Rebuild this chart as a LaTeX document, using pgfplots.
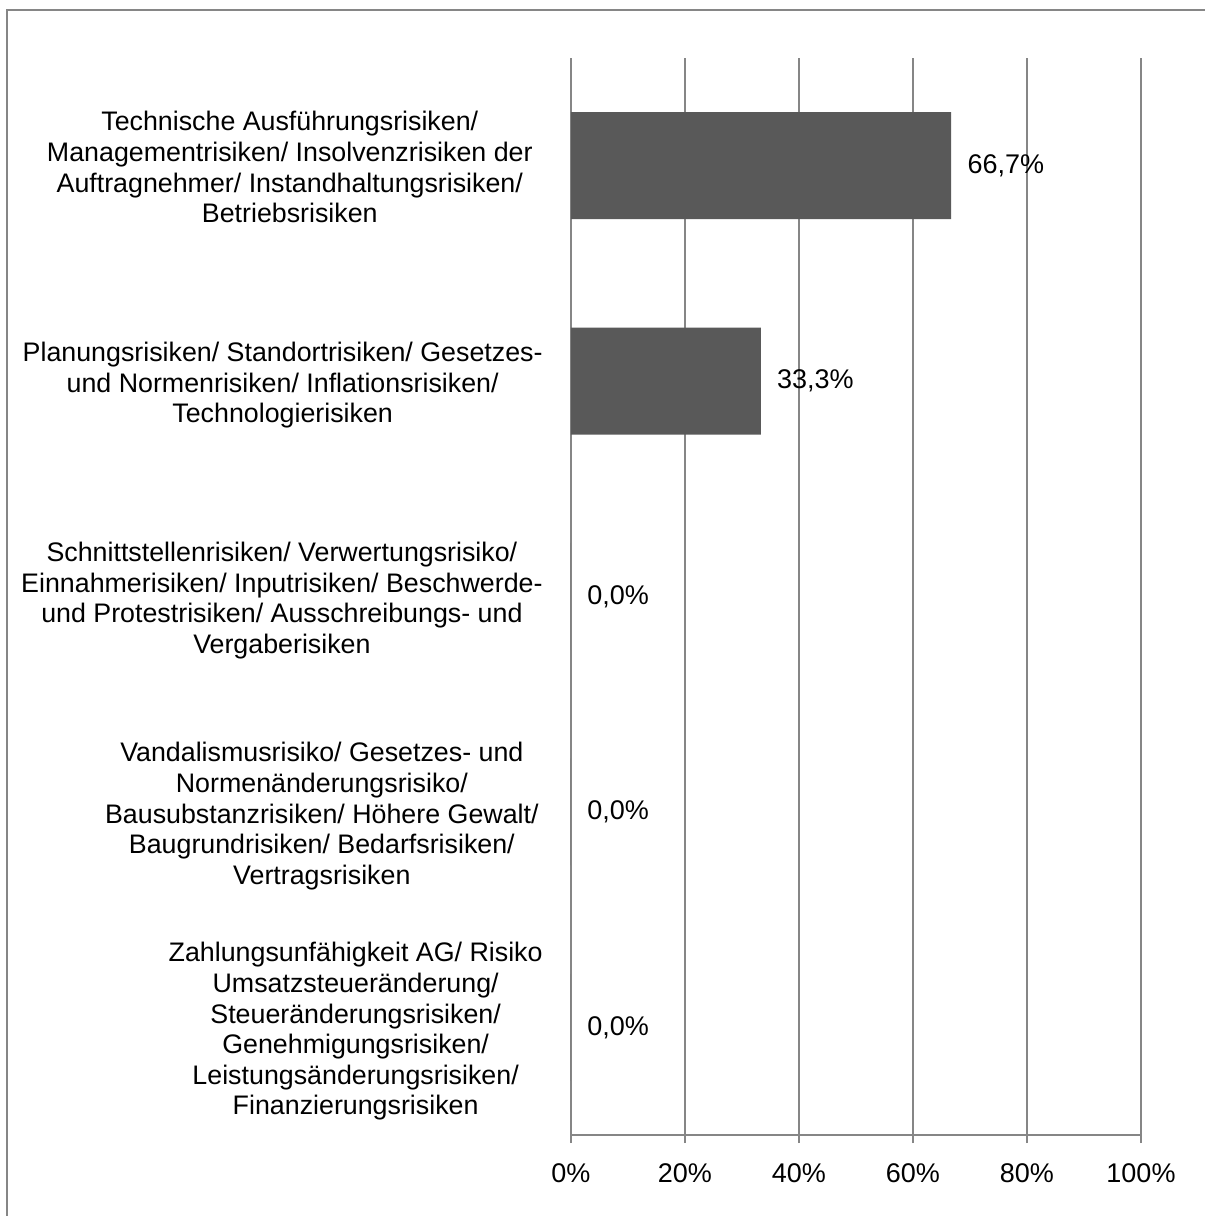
\documentclass[border=0pt]{standalone}
\usepackage{fontspec}
\setmainfont{Liberation Sans}
\usepackage{pgfplots}
\pgfplotsset{compat=1.18}
\definecolor{barfill}{HTML}{595959}
\definecolor{gridgray}{HTML}{868686}
\newcommand{\lbl}[1]{\begin{tabular}{@{}c@{}}#1\end{tabular}}
\begin{document}
\begin{tikzpicture}[x=0.5pt,y=0.5pt]
% picture area: image px (X,Y) -> (X-571, 1135-Y)
\clip (-571,-81) rectangle (634,1135);
\draw[gridgray, line width=1pt] (-564,-300) -- (-564,1125) -- (900,1125);
\begin{axis}[
  at={(0,0)}, anchor=south west,
  scale only axis, width=285pt, height=538.5pt,
  xbar, bar width=0.497,
  xmin=0, xmax=100, ymin=0.5, ymax=5.5, y dir=reverse,
  axis x line*=bottom, axis y line*=left,
  axis line style={gridgray, line width=1pt, -},
  xtick={0,20,40,60,80,100},
  xticklabel={\pgfmathprintnumber{\tick}\%},
  xmajorgrids, major grid style={gridgray, line width=1pt},
  major tick length=4pt, tick align=outside,
  tick style={gridgray, line width=1pt},
  ytick={1,2,3,4,5},
  minor ytick={0.5,1.5,2.5,3.5,4.5,5.5},
  minor tick length=4pt,
  ytick style={draw=none},
  minor tick style={draw=gridgray, line width=1pt},
  yticklabels={
    {\lbl{Technische Ausführungsrisiken/\\Managementrisiken/ Insolvenzrisiken der\\Auftragnehmer/ Instandhaltungsrisiken/\\Betriebsrisiken}\rule{5pt}{0pt}},
    {\lbl{Planungsrisiken/ Standortrisiken/ Gesetzes-\\und Normenrisiken/ Inflationsrisiken/\\Technologierisiken}},
    {\lbl{Schnittstellenrisiken/ Verwertungsrisiko/\\Einnahmerisiken/ Inputrisiken/ Beschwerde-\\und Protestrisiken/ Ausschreibungs- und\\Vergaberisiken}},
    {\lbl{Vandalismusrisiko/ Gesetzes- und\\Normenänderungsrisiko/\\Bausubstanzrisiken/ Höhere Gewalt/\\Baugrundrisiken/ Bedarfsrisiken/\\Vertragsrisiken}\rule{2pt}{0pt}},
    {\lbl{Zahlungsunfähigkeit AG/ Risiko\\Umsatzsteueränderung/\\Steueränderungsrisiken/\\Genehmigungsrisiken/\\Leistungsänderungsrisiken/\\Finanzierungsrisiken}}
  },
  yticklabel style={anchor=east, inner sep=0pt, xshift=-10pt, yshift=-2.5pt,
    font=\fontsize{13.4}{15.3}\selectfont},
  xticklabel style={font=\fontsize{13.5}{14}\selectfont, yshift=-7pt},
  /pgf/number format/assume math mode=true,
  nodes near coords={\pgfmathprintnumber[fixed,zerofill,precision=1,use comma]{\pgfplotspointmeta}\%},
  nodes near coords style={anchor=west, inner sep=0pt, xshift=8pt,
    font=\fontsize{13.5}{14}\selectfont, text=black},
  point meta=explicit symbolic,
]
\addplot[fill=barfill, draw=none] coordinates
  {(66.7,1) [66.7] (33.3,2) [33.3] (0,3) [0] (0,4) [0] (0,5) [0]};
\end{axis}
\end{tikzpicture}
\end{document}
